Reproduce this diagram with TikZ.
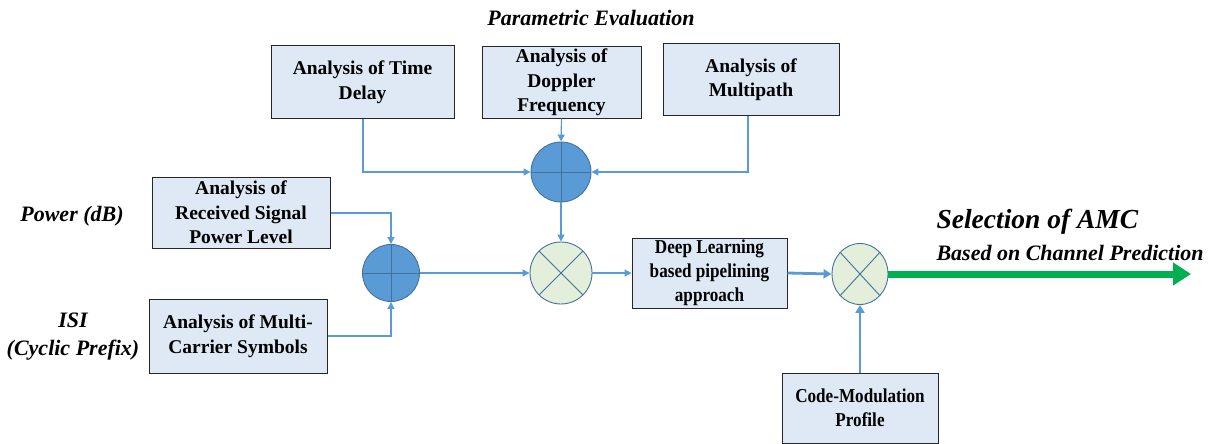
\documentclass[tikz,border=0pt]{standalone}
\usepackage{fontspec}
\setmainfont{Liberation Serif}
\newfontfamily\condserif[FakeStretch=0.87]{Liberation Serif}
\usetikzlibrary{arrows.meta,shapes.geometric}
\definecolor{boxfill}{HTML}{DEE9F5}
\definecolor{lineblue}{HTML}{5B9BD5}
\definecolor{circblue}{HTML}{5B9BD5}
\definecolor{circedge}{HTML}{41719C}
\definecolor{circgreen}{HTML}{E3EFDA}
\definecolor{arrgreen}{HTML}{00B050}
\tikzset{
  blk/.style={draw=black!85, line width=1pt, fill=boxfill, inner sep=0pt, align=center,
    font=\fontsize{19.5}{24.5}\selectfont\bfseries},
  blks/.style={blk, font=\condserif\fontsize{19.7}{24}\selectfont\bfseries},
  sumc/.style={circle, draw=circedge, line width=0.9pt, fill=circblue, inner sep=0pt},
  mulc/.style={ellipse, draw=circedge, line width=0.9pt, fill=circgreen, inner sep=0pt},
  conn/.style={draw=lineblue, line width=1.2pt, -{Triangle[length=7pt,width=7pt]}},
  thickconn/.style={draw=lineblue, line width=2.8pt, -{Triangle[length=8pt,width=9pt]}},
  lab/.style={font=\fontsize{22}{28}\selectfont\bfseries\itshape, align=center}
}
\begin{document}
\begin{tikzpicture}[x=1pt,y=-1pt]
\useasboundingbox (0,0) rectangle (1215,444);
% boxes
\node[blk, minimum width=183pt, minimum height=72pt] (td) at (362.5,82) {Analysis of Time\\Delay};
\node[blk, minimum width=159pt, minimum height=71pt] (dop) at (561.5,82.5) {Analysis of\\Doppler\\Frequency};
\node[blk, minimum width=176pt, minimum height=71pt] (mp) at (751,79.5) {Analysis of\\Multipath};
\node[blk, minimum width=178pt, minimum height=71pt] (rs) at (241,212.5) {Analysis of\\Received Signal\\Power Level};
\node[blk, minimum width=178pt, minimum height=74pt] (mc) at (238,336) {Analysis of Multi-\\Carrier Symbols};
\node[blks, minimum width=155pt, minimum height=70pt] (dl) at (709.5,273) {Deep Learning\\based pipelining\\approach};
\node[blks, minimum width=156pt, minimum height=70pt] (cm) at (860,408) {Code-Modulation\\Profile};
% circles
\node[sumc, minimum size=60pt] (s1) at (561,172) {};
\node[sumc, minimum size=57pt] (s2) at (391,273) {};
\node[mulc, minimum width=62pt, minimum height=62pt] (m1) at (561,273) {};
\node[mulc, minimum width=56pt, minimum height=61pt] (m2) at (860,274) {};
% plus / times marks
\foreach \c in {s1,s2}{
  \draw[circedge, line width=0.9pt] (\c.north) -- (\c.south) (\c.west) -- (\c.east);
}
\foreach \c in {m1,m2}{
  \draw[circedge, line width=0.9pt] (\c.north west) -- (\c.south east) (\c.north east) -- (\c.south west);
}
% connectors
\draw[conn] (td.south -| 363,0) |- (s1.west);
\draw[conn] (dop.south) -- (s1.north);
\draw[conn] (mp.south -| 748,0) |- (s1.east);
\draw[conn] (s1.south) -- (m1.north);
\draw[conn] (rs.east |- 0,213) -| (s2.north);
\draw[conn] (mc.east |- 0,336) -| (s2.south);
\draw[conn] (s2.east) -- (m1.west);
\draw[conn] (m1.east) -- (dl.west |- m1.east);
\draw[thickconn] (dl.east) -- (m2.west);
\draw[thickconn] (cm.north) -- (m2.south);
\coordinate (outend) at (1191,274);
\draw[draw=arrgreen, line width=7pt, -{Triangle[length=18pt,width=22pt]}] (m2.east) -- (outend);
% labels
\node[lab] (pe) at (591,18) {Parametric Evaluation};
\node[lab] (pw) at (72,216) {Power (dB)};
\node[lab] (isi) at (73,337) {ISI\\(Cyclic Prefix)};
\node[font=\fontsize{27.5}{30}\selectfont\bfseries\itshape, anchor=west] (sel) at (933,222) {Selection of AMC};
\node[font=\fontsize{22}{26}\selectfont\bfseries\itshape, anchor=west] (bcp) at (933,253) {Based on Channel Prediction};
\end{tikzpicture}
\end{document}
